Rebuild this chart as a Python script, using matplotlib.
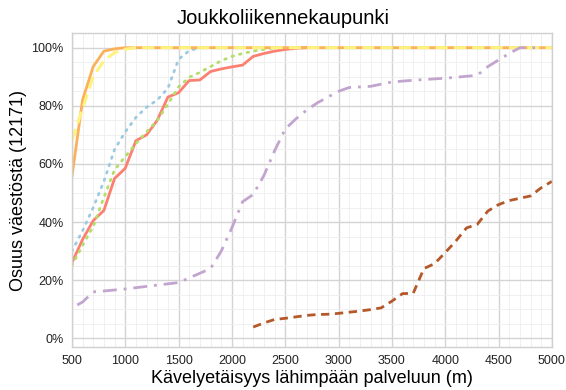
import numpy as np
import matplotlib.pyplot as plt
from matplotlib.ticker import MultipleLocator, PercentFormatter

plt.rcParams['font.family'] = ['Liberation Sans', 'DejaVu Sans']

# kävelyetäisyys (m) ja osuus väestöstä (%) palvelutyypeittäin
dist_a = [500, 600, 700, 800, 900, 1000, 1100, 1200, 1300, 1400, 1500, 1600, 1700,
          1800, 1900, 2000, 2100, 2200, 2300, 2400, 2500, 2600, 2700]
share_a = [26, 34, 40.5, 44, 55, 58.5, 68, 70, 75, 83, 84.5, 88.7, 88.9,
           91.8, 92.7, 93.4, 94, 97, 98, 98.8, 99.4, 99.8, 100]

dist_b = [500, 600, 700, 800, 900, 1000, 1100, 1200, 1300, 1400, 1500, 1600, 1700,
          1800, 1900, 2000, 2100, 2200, 2300, 2400]
share_b = [25, 32, 38.5, 48.5, 58, 62.5, 67, 71, 75, 80.5, 86.5, 89.8, 91.5,
           93.5, 95.5, 97, 98, 98.8, 99.4, 100]

dist_c = [500, 600, 700, 800, 900, 1000, 1100, 1200, 1300, 1400, 1500, 1600, 1700]
share_c = [30, 37, 45, 54, 65, 71, 76, 79.5, 82, 86, 96, 99, 100]

dist_d = [550, 600, 700, 800, 1000, 1500, 1800, 1900, 2000, 2100, 2200, 2300, 2400,
          2500, 2600, 2700, 2800, 2900, 3000, 3100, 3300, 3500, 3700, 4000, 4300,
          4400, 4600, 4700, 4850]
share_d = [11.5, 12.5, 16, 16.3, 17, 19.2, 24, 30, 38, 47, 49.5, 56, 64.5,
           72, 75.5, 78.5, 81, 83, 85, 86.3, 86.7, 88.2, 88.8, 89.5, 90.5,
           93.5, 98, 100, 100]

dist_e = [2200, 2300, 2400, 2500, 2600, 2700, 2800, 2900, 3000, 3100, 3200, 3300,
          3400, 3500, 3600, 3700, 3800, 3900, 4000, 4100, 4200, 4300, 4400, 4500,
          4600, 4700, 4800, 4900, 5000]
share_e = [3.9, 5.3, 6.5, 6.9, 7.4, 7.9, 8.2, 8.3, 8.6, 9.0, 9.4, 9.9,
           10.5, 12.8, 15.4, 15.5, 24, 25.7, 29.5, 33.5, 38, 39.2, 43.8, 46,
           47.4, 48.2, 49, 51.8, 54]

dist_f = [500, 600, 700, 800, 900, 1000, 5000]
share_f = [55.5, 82, 93.5, 98.8, 99.6, 100, 100]

dist_g = [500, 600, 700, 800, 900, 1000, 1100, 5000]
share_g = [68, 79, 90, 95.5, 98.3, 99.5, 100, 100]

fig = plt.figure(figsize=(5.66, 3.9), dpi=100)
ax = fig.add_axes([0.127, 0.110, 0.848, 0.805])

ax.plot(dist_a, np.array(share_a) / 100, color='#fb8072', lw=2, ls='-')
ax.plot(dist_b, np.array(share_b) / 100, color='#b3de69', lw=2, ls=(0, (0.6, 2.2)),
        dash_capstyle='round')
ax.plot(dist_c, np.array(share_c) / 100, color='#9ecae1', lw=2, ls=(0, (0.6, 2.2)),
        dash_capstyle='round')
ax.plot(dist_e, np.array(share_e) / 100, color='#b5582a', lw=2, ls=(0, (3, 2)))
ax.plot(dist_f, np.array(share_f) / 100, color='#fbb05a', lw=2, ls='-')
ax.plot(dist_g, np.array(share_g) / 100, color='#fff27f', lw=2.2, ls=(0, (4, 2)))
ax.plot(dist_d, np.array(share_d) / 100, color='#c2a5cf', lw=2, ls=(0, (5, 2.5, 1, 2.5)))

ax.set_xlim(500, 5000)
ax.set_ylim(-0.03, 1.05)
ax.xaxis.set_major_locator(MultipleLocator(500))
ax.xaxis.set_minor_locator(MultipleLocator(100))
ax.yaxis.set_major_locator(MultipleLocator(0.2))
ax.yaxis.set_minor_locator(MultipleLocator(0.05))
ax.yaxis.set_major_formatter(PercentFormatter(1.0, decimals=0))

ax.grid(which='major', color='#d4d4d4', lw=1)
ax.grid(which='minor', color='#eeeeee', lw=0.6)
ax.set_axisbelow(True)
ax.tick_params(which='both', length=0, labelsize=9, colors='#222222', pad=6)
for s in ax.spines.values():
    s.set_color('#d0d0d0')
    s.set_linewidth(1)

fig.suptitle('Joukkoliikennekaupunki', fontsize=14.5, x=0.5, y=0.978, va='top')
ax.set_xlabel('Kävelyetäisyys lähimpään palveluun (m)', fontsize=13, labelpad=2)
ax.set_ylabel('Osuus väestöstä (12171)', fontsize=13, labelpad=3)

fig.savefig('out.png', dpi=100)
